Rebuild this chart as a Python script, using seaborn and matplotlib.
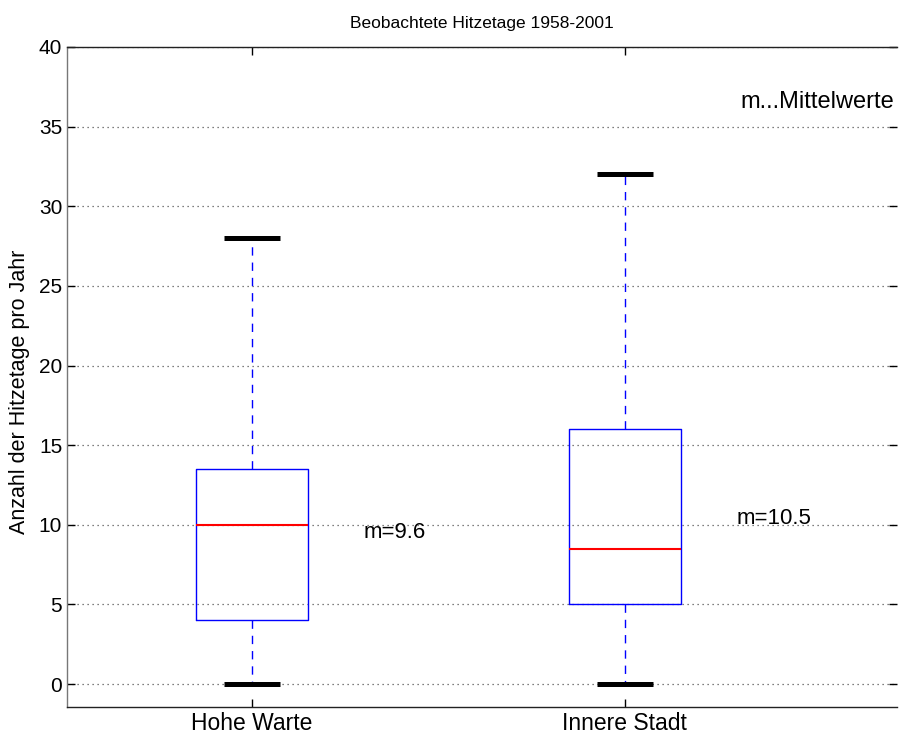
import matplotlib
matplotlib.use("Agg")
import matplotlib.pyplot as plt
import seaborn as sns
import pandas as pd

# Five-number summaries (min, Q1, median, Q3, max)
stations = ["Hohe Warte", "Innere Stadt"]
hohe_warte = [0, 4, 10, 13.5, 28]
innere_stadt = [0, 5, 8.5, 16, 32]
means = [9.6, 10.5]
mean_labels = ["m=9.6", "m=10.5"]
yticks = [0, 5, 10, 15, 20, 25, 30, 35, 40]

sns.set_theme(style="white")
plt.rcParams["font.family"] = ["Liberation Sans", "DejaVu Sans"]
plt.rcParams["text.color"] = "black"
plt.rcParams["xtick.color"] = "black"
plt.rcParams["ytick.color"] = "black"
plt.rcParams["axes.labelcolor"] = "black"

df = pd.DataFrame({
    "station": [stations[0]] * len(hohe_warte) + [stations[1]] * len(innere_stadt),
    "value": hohe_warte + innere_stadt,
})

fig = plt.figure(figsize=(8.99, 7.36), dpi=100)
ax = fig.add_axes([67 / 899, 1 - 707 / 736, (897 - 67) / 899, (707 - 47) / 736])

sns.boxplot(
    data=df, x="station", y="value", order=stations, ax=ax,
    whis=(0, 100), width=0.3, fill=False, color="blue",
    boxprops=dict(color="blue", linewidth=1.0),
    whiskerprops=dict(color="blue", linewidth=1.0, linestyle=(0, (6, 5))),
    capprops=dict(color="black", linewidth=3.6, solid_capstyle="butt"),
    medianprops=dict(color="red", linewidth=1.5),
)

ax.set_xlim(-0.496, 1.73)
ax.set_ylim(-1.44, 40)
ax.set_yticks(yticks)
ax.set_yticklabels([str(t) for t in yticks], fontsize=15)
ax.tick_params(axis="x", labelsize=16.5)
ax.tick_params(direction="in", length=6, width=1, colors="black",
               top=True, right=True, bottom=True, left=True)
ax.yaxis.grid(True, linestyle=(0, (1, 3)), color="#555555", linewidth=0.9)
ax.set_axisbelow(True)
for side in ["bottom", "top"]:
    ax.spines[side].set_color("#222222")
    ax.spines[side].set_linewidth(1.0)
ax.spines["left"].set_color("#777777")
ax.spines["left"].set_linewidth(1.0)
ax.spines["right"].set_visible(False)

ax.set_xlabel("")
ax.set_ylabel("Anzahl der Hitzetage pro Jahr", fontsize=15.5)
ax.yaxis.set_label_coords(-0.045, 0.477)
ax.set_title("Beobachtete Hitzetage 1958-2001", fontsize=12.5, pad=14)

for i, (m, lab) in enumerate(zip(means, mean_labels)):
    ax.text(i + 0.3, m - 0.1, lab, ha="left", va="center", fontsize=16)
ax.text(0.997, 0.9167, "m...Mittelwerte", transform=ax.transAxes,
        ha="right", va="center", fontsize=17)

fig.savefig("out.png", dpi=100)
